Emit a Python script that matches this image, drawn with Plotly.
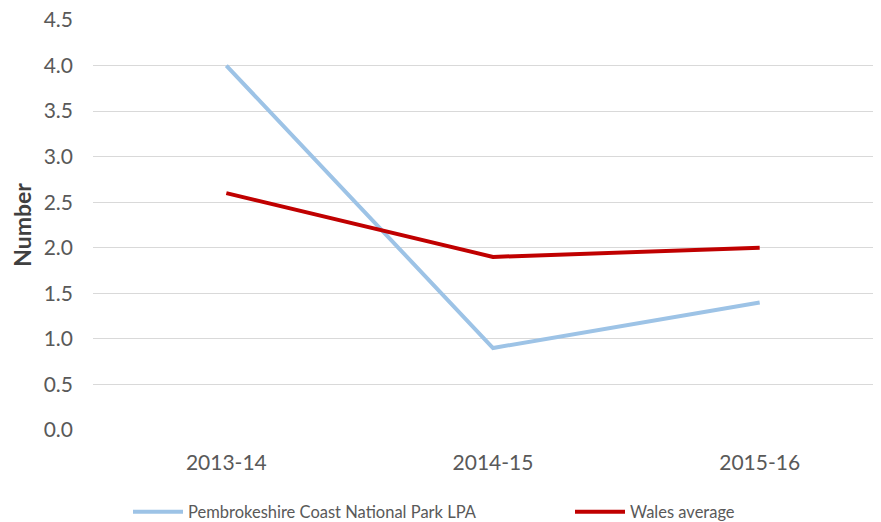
import plotly.graph_objects as go

years = ['2013-14', '2014-15', '2015-16']
pembrokeshire = [4.0, 0.9, 1.4]
wales_avg = [2.6, 1.9, 2.0]

# the page puts the figure 8px in from the top-left corner
W, H = 873, 514

fig = go.Figure()
fig.add_trace(go.Scatter(x=years, y=pembrokeshire, mode='lines',
                         name='Pembrokeshire Coast National Park LPA',
                         line=dict(color='#9dc3e6', width=4), legend='legend'))
fig.add_trace(go.Scatter(x=years, y=wales_avg, mode='lines',
                         name='Wales average',
                         line=dict(color='#c00000', width=4), legend='legend2'))

leg_style = dict(orientation='h', xanchor='left', xref='container', yref='container',
                 y=1 - 504 / H, yanchor='middle',
                 font=dict(size=16.5, color='#595959'), itemwidth=50,
                 bgcolor='rgba(0,0,0,0)')

fig.update_layout(
    width=W, height=H,
    margin=dict(l=85, r=0, t=12, b=92),
    plot_bgcolor='white', paper_bgcolor='white',
    font=dict(family='Lato', color='#595959'),
    showlegend=True,
    legend=dict(x=120 / W, **leg_style),
    legend2=dict(x=562 / W, **leg_style),
)
fig.update_xaxes(range=[-0.5, 2.455], showgrid=False, showline=False, ticks='',
                 tickfont=dict(size=21, color='#595959'), ticklabelstandoff=18)
fig.update_yaxes(range=[0, 4.5], dtick=0.5, tickformat='.1f', showgrid=True,
                 gridcolor='#d9d9d9', gridwidth=1, zeroline=False, showline=False,
                 ticklabeloverflow='allow', automargin='left',
                 tickfont=dict(size=21, color='#595959'), ticklabelstandoff=19,
                 title=dict(text='<b>Number</b>', font=dict(size=23, color='#404040'), standoff=19))

fig.write_html("out.html")
